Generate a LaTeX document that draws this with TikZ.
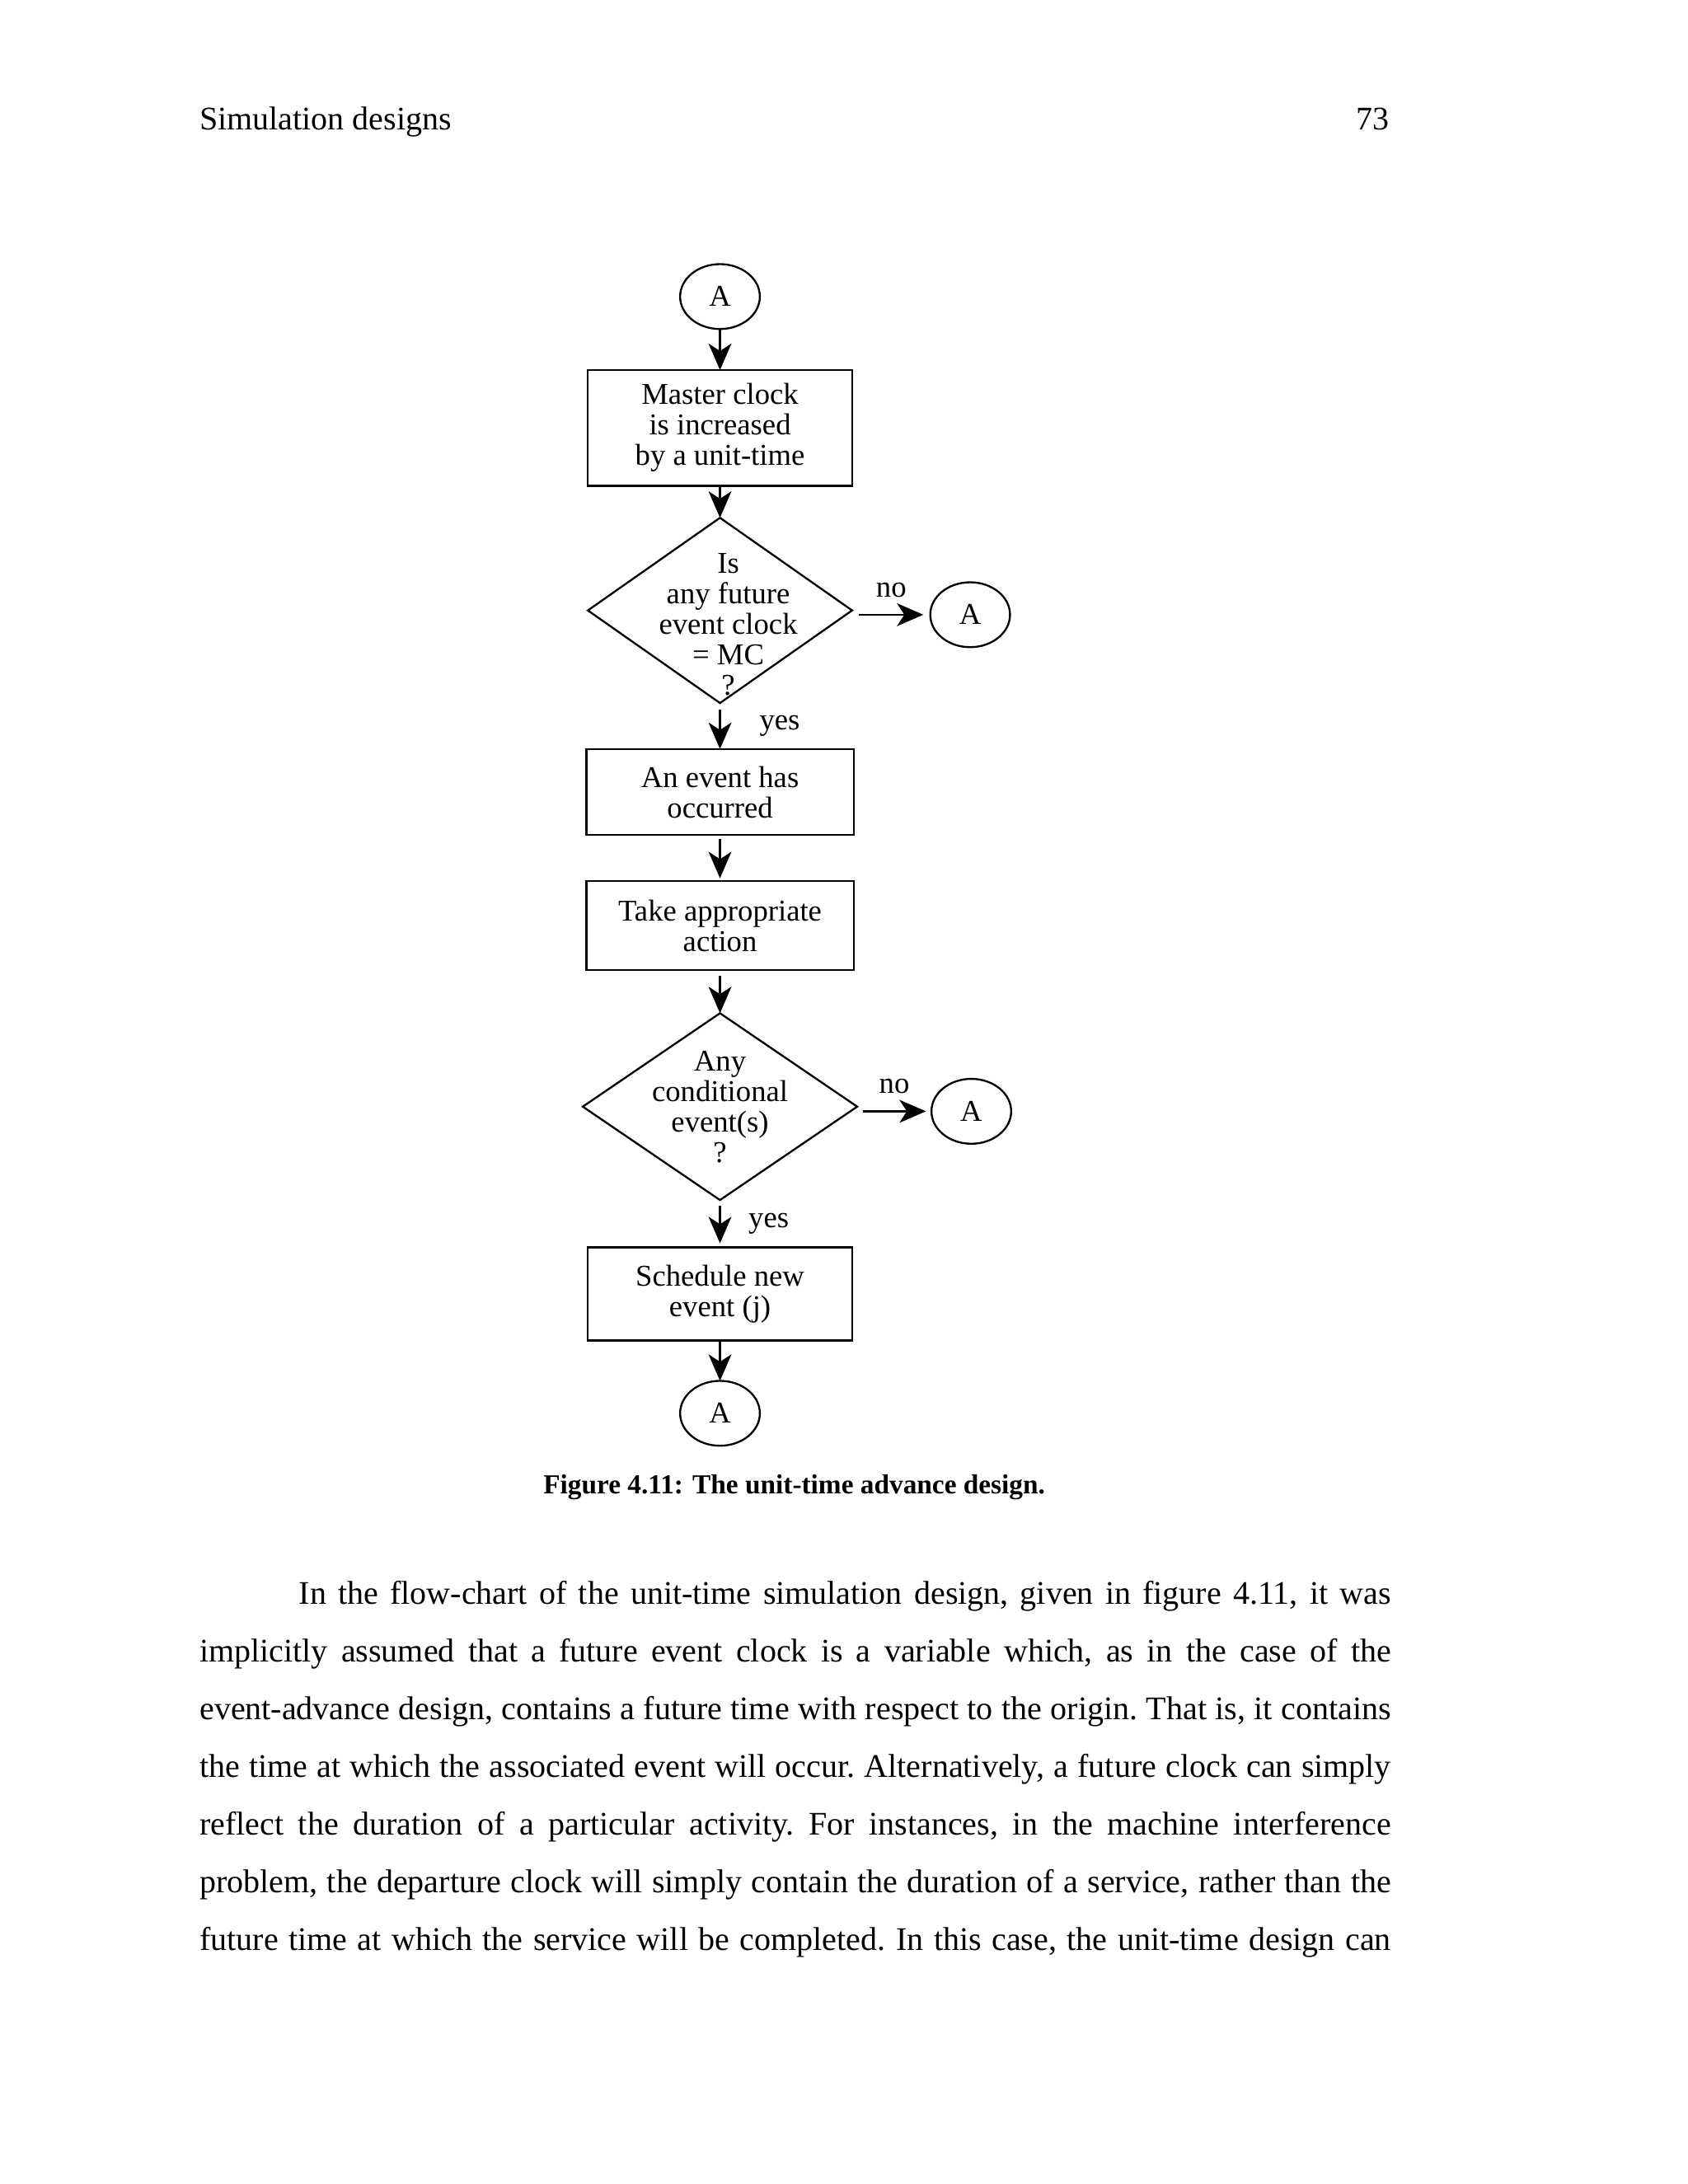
\documentclass[tikz,border=0pt]{standalone}
\usepackage{fontspec}
\setmainfont{Liberation Serif}
\usetikzlibrary{arrows.meta, positioning, shapes.geometric}
\tikzset{%
	conn/.style={draw, ellipse, line width=0.7pt, minimum width=1.02cm, minimum height=0.83cm,%
		inner sep=0mm, outer sep=0mm, font=\fontsize{11}{11}\selectfont},
	proc/.style={draw, rectangle, line width=0.7pt, minimum width=3.38cm, inner sep=0mm, outer sep=0mm,%
		align=center, font=\fontsize{11}{11.1}\selectfont},
	dec/.style={draw, diamond, line width=0.7pt, minimum width=3.38cm, minimum height=2.37cm,%
		inner sep=0mm, outer sep=0mm},
	qtext/.style={align=center, inner sep=0mm, font=\fontsize{11}{11.1}\selectfont},
	flow/.style={-{Stealth[length=9.6bp, width=8.3bp, inset=2.7bp]}, line width=0.7pt},
	ans/.style={inner sep=0mm, font=\fontsize{11}{11}\selectfont},
	pagetext/.style={inner sep=0mm, font=\fontsize{12}{21}\selectfont}
}

\begin{document}
\begin{tikzpicture}
	\useasboundingbox (0,0) rectangle (21.59,-27.94);
	% running head
	\node[pagetext, anchor=base west] (head) at (2.547,-1.657) {Simulation designs};
	\node[pagetext, anchor=base east] (pno) at (17.78,-1.657) {73};
	
	\node[conn] (a0) at (9.21,-3.794) {A};
	\node[proc, minimum height=1.48cm, below=0.525cm of a0] (clk) {Master clock\\is increased\\by a unit-time};
	\node[dec, below=0.41cm of clk] (q1) {};
	\node[qtext] (q1t) at ([xshift=3bp, yshift=-5bp]q1) {Is\\any future\\event clock\\= MC\\?};
	\node[conn, right=1cm of q1, yshift=-0.055cm] (a1) {A};
	\node[proc, minimum width=3.42cm, minimum height=1.1cm, below=0.588cm of q1] (ev) {An event has\\occurred};
	\node[proc, minimum width=3.42cm, minimum height=1.14cm, below=0.588cm of ev] (act) {Take appropriate\\action};
	\node[dec, minimum width=3.51cm, minimum height=2.39cm, below=0.552cm of act] (q2) {};
	\node[qtext] (q2t) at (q2) {Any\\conditional\\event(s)\\?};
	\node[conn, right=0.95cm of q2, yshift=-0.06cm] (a2) {A};
	\node[proc, minimum height=1.19cm, below=0.606cm of q2] (sch) {Schedule new\\event (j)};
	\node[conn, below=0.517cm of sch] (a3) {A};
	
	\draw[flow] (a0) to (clk);
	\draw[flow] (clk) to (q1);
	\draw[flow, shorten <=2.5bp, shorten >=2.5bp] ([yshift=-0.055cm]q1.east) to node[ans, above=6bp]{no} (a1);
	\draw[flow, shorten <=2.5bp] (q1) to node[ans, right=14bp]{yes} (ev);
	\draw[flow, shorten <=1.5bp, shorten >=1bp] (ev) to (act);
	\draw[flow, shorten <=2bp] (act) to (q2);
	\draw[flow, shorten <=2bp, shorten >=2bp] ([yshift=-0.06cm]q2.east) to node[ans, above=6bp]{no} (a2);
	\draw[flow, shorten <=2bp, shorten >=1.5bp] (q2) to node[ans, right=10bp]{yes} (sch);
	\draw[flow] (sch) to (a3);
	
	% caption and body text
	\node[inner sep=0mm, anchor=base, font=\fontsize{10}{12}\selectfont\bfseries] (cap) at (10.16,-19.11)
		{Figure 4.11: The unit-time advance design.};
	\node[pagetext, anchor=base west] (para) at (2.547,-20.52) {\parbox[t]{6in}{%
		\fontsize{12}{21}\selectfont\frenchspacing
		\setlength{\parindent}{0.5in}\setlength{\parfillskip}{0pt}%
		In the flow-chart of the unit-time simulation design, given in figure 4.11, it was\linebreak
		implicitly assumed that a future event clock is a variable which, as in the case of the\linebreak
		event-advance design, contains a future time with respect to the origin. That is, it contains\linebreak
		the time at which the associated event will occur. Alternatively, a future clock can simply\linebreak
		reflect the duration of a particular activity. For instances, in the machine interference\linebreak
		problem, the departure clock will simply contain the duration of a service, rather than the\linebreak
		future time at which the service will be completed. In this case, the unit-time design can}};
\end{tikzpicture}
\end{document}
